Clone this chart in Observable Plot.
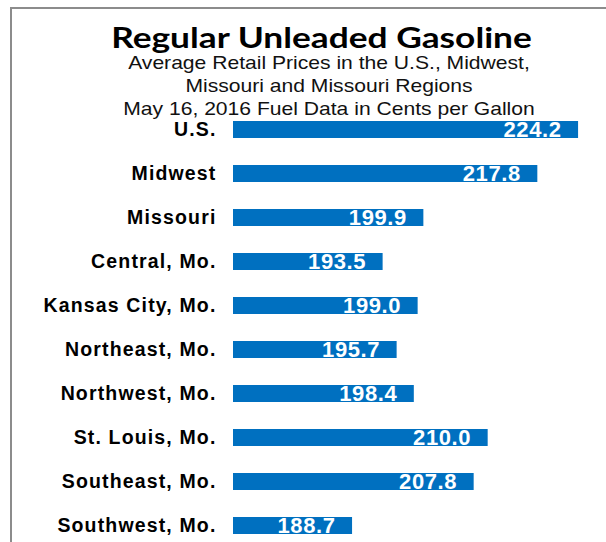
<!DOCTYPE html>
<html>
<head>
<meta charset="utf-8">
<script src="https://cdn.jsdelivr.net/npm/d3@7"></script>
<script src="https://cdn.jsdelivr.net/npm/@observablehq/plot@0.6"></script>
<style>
  html, body { margin: 0; padding: 0; background: #fff; overflow: hidden; }
  #page { position: relative; width: 606px; height: 542px; }
  #frame { position: absolute; left: 10px; top: 7px; right: -4px; bottom: -4px;
           border-top: 2px solid #8c8c8c; border-left: 2px solid #8c8c8c; }
  #title { position: absolute; left: 0; width: 643px; top: 23px; text-align: center;
           font-family: Lato, "Open Sans", sans-serif; font-weight: bold; font-size: 28px;
           line-height: 28px; color: #000; z-index: 2; transform: scaleX(1.26); }
  .sub { position: absolute; left: 0; width: 658px; text-align: center;
         font-family: "Liberation Sans", Arial, sans-serif; font-size: 19px;
         line-height: 20px; color: #111; z-index: 2; transform: scaleX(1.11); }
  #chart { position: absolute; left: 0; top: 0; z-index: 1; }
</style>
</head>
<body>
<div id="page">
  <div id="frame"></div>
  <div id="title">Regular Unleaded Gasoline</div>
  <div class="sub" style="top:53px">Average Retail Prices in the U.S., Midwest,</div>
  <div class="sub" style="top:76px">Missouri and Missouri Regions</div>
  <div class="sub" style="top:99px">May 16, 2016 Fuel Data in Cents per Gallon</div>
  <div id="chart"></div>
</div>
<script>
const regions = ["U.S.", "Midwest", "Missouri", "Central, Mo.", "Kansas City, Mo.",
                 "Northeast, Mo.", "Northwest, Mo.", "St. Louis, Mo.", "Southeast, Mo.", "Southwest, Mo."];
const prices = [224.2, 217.8, 199.9, 193.5, 199.0, 195.7, 198.4, 210.0, 207.8, 188.7];
const axisDomain = [170, 230];

const data = regions.map((r, i) => ({region: r, price: prices[i]}));

const chart = Plot.plot({
  width: 606,
  height: 548,
  marginTop: 107,
  marginBottom: 0,
  marginLeft: 233,
  marginRight: 0,
  style: {background: "transparent", overflow: "visible"},
  x: {domain: axisDomain, range: [233, 615], clamp: true, axis: null},
  y: {domain: regions, paddingInner: 0.61, paddingOuter: 0.305, axis: null},
  marks: [
    Plot.barX(data, {y: "region", x: "price", fill: "#0070C0"}),
    Plot.axisY({
      tickSize: 0, tickPadding: 17,
      fontSize: 19.5, fontWeight: "bold", fill: "#000",
      fontFamily: "Liberation Sans, Arial, sans-serif",
      label: null
    }),
    Plot.text(data, {
      y: "region", x: "price", text: d => d.price.toFixed(1),
      textAnchor: "end", dx: -17, dy: 0,
      fill: "white", fontSize: 22, fontWeight: "bold",
      fontFamily: "Liberation Sans, Arial, sans-serif"
    })
  ]
});
chart.querySelectorAll("g[aria-label='y-axis tick label'] text").forEach(t => t.setAttribute("letter-spacing", "1.15px"));
chart.querySelectorAll("g[aria-label='text'] text").forEach(t => t.setAttribute("letter-spacing", "0.6px"));
document.getElementById("chart").appendChild(chart);
</script>
</body>
</html>
